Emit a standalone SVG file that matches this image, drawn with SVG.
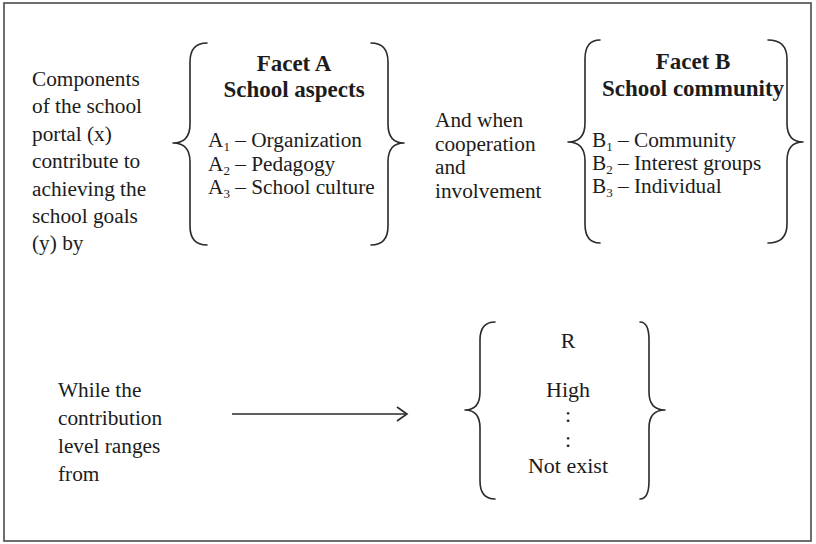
<svg xmlns="http://www.w3.org/2000/svg" width="816" height="544" viewBox="0 0 816 544">
  <style>
    text { font-family: "Liberation Serif", "Times New Roman", serif; fill: #1c1c1c; }
    .body { font-size: 21.3px; }
    .head { font-size: 23px; font-weight: bold; text-anchor: middle; }
    .mid { text-anchor: middle; font-size: 22px; }
    .sub { font-size: 13px; }
    .brace { fill: none; stroke: #2a2a2a; stroke-width: 1.6; stroke-linecap: round; stroke-linejoin: round; }
    .frame { fill: #ffffff; stroke: #4a4a4a; stroke-width: 1.6; }
    .link { fill: none; stroke: #2a2a2a; stroke-width: 1.6; }
  </style>
  <defs>
    <marker id="open-arrow" markerUnits="userSpaceOnUse" markerWidth="14" markerHeight="18" refX="11" refY="8" orient="auto">
      <path d="M1,1 L11,8 L1,15" fill="none" stroke="#2a2a2a" stroke-width="1.6"/>
    </marker>
  </defs>

  <rect x="0" y="0" width="816" height="544" fill="#ffffff"/>
  <rect class="frame" x="4" y="3" width="807" height="538"/>

  <!-- opening statement -->
  <g id="intro">
    <text class="body" x="32" y="86">Components</text>
    <text class="body" x="32" y="113.4">of the school</text>
    <text class="body" x="32" y="140.8">portal (x)</text>
    <text class="body" x="32" y="168.2">contribute to</text>
    <text class="body" x="32" y="195.6">achieving the</text>
    <text class="body" x="32" y="223">school goals</text>
    <text class="body" x="32" y="250.4">(y) by</text>
  </g>

  <!-- facet A: school aspects -->
  <g id="facet-a">
    <path class="brace" d="M207,43 Q190,43 190,62 L190,124 Q190,143 173,143 Q190,143 190,162 L190,226 Q190,245 207,245"/>
    <path class="brace" d="M371,43 Q388,43 388,62 L388,124 Q388,143 404,143 Q388,143 388,162 L388,226 Q388,245 371,245"/>
    <text class="head" x="294" y="71">Facet A</text>
    <text class="head" x="294" y="97">School aspects</text>
    <text class="body" x="208" y="147">A<tspan class="sub" dy="4">1</tspan><tspan dy="-4"> – Organization</tspan></text>
    <text class="body" x="208" y="170.5">A<tspan class="sub" dy="4">2</tspan><tspan dy="-4"> – Pedagogy</tspan></text>
    <text class="body" x="208" y="194">A<tspan class="sub" dy="4">3</tspan><tspan dy="-4"> – School culture</tspan></text>
  </g>

  <!-- condition between the facets -->
  <g id="and-when">
    <text class="body" x="435" y="127">And when</text>
    <text class="body" x="435" y="150.7">cooperation</text>
    <text class="body" x="435" y="174.4">and</text>
    <text class="body" x="435" y="198">involvement</text>
  </g>

  <!-- facet B: school community -->
  <g id="facet-b">
    <path class="brace" d="M600,40 Q585,40 585,59 L585,123 Q585,142 568,142 Q585,142 585,161 L585,224 Q585,243 600,243"/>
    <path class="brace" d="M768,40 Q787,40 787,59 L787,123 Q787,142 803,142 Q787,142 787,161 L787,224 Q787,243 768,243"/>
    <text class="head" x="693" y="69">Facet B</text>
    <text class="head" x="693" y="96">School community</text>
    <text class="body" x="592" y="147">B<tspan class="sub" dy="4">1</tspan><tspan dy="-4"> – Community</tspan></text>
    <text class="body" x="592" y="170">B<tspan class="sub" dy="4">2</tspan><tspan dy="-4"> – Interest groups</tspan></text>
    <text class="body" x="592" y="193">B<tspan class="sub" dy="4">3</tspan><tspan dy="-4"> – Individual</tspan></text>
  </g>

  <!-- contribution level statement -->
  <g id="range-intro">
    <text class="body" x="58" y="397">While the</text>
    <text class="body" x="58" y="425">contribution</text>
    <text class="body" x="58" y="453">level ranges</text>
    <text class="body" x="58" y="481">from</text>
  </g>

  <!-- result scale R -->
  <g id="range-r">
    <path class="brace" d="M495,322 Q480,322 480,340 L480,392 Q480,410 465,410 Q480,410 480,428 L480,481 Q480,499 495,499"/>
    <path class="brace" d="M640,322 Q649,322 649,340 L649,392 Q649,410 665,410 Q649,410 649,428 L649,481 Q649,499 640,499"/>
    <text class="mid" x="568" y="348">R</text>
    <text class="mid" x="568" y="397">High</text>
    <text class="mid" x="568" y="422">:</text>
    <text class="mid" x="568" y="447">:</text>
    <text class="mid" x="568" y="473">Not exist</text>
  </g>

  <!-- connectors -->
  <g id="connectors">
    <line class="link" x1="232" y1="414" x2="407" y2="414" marker-end="url(#open-arrow)"/>
  </g>
</svg>
